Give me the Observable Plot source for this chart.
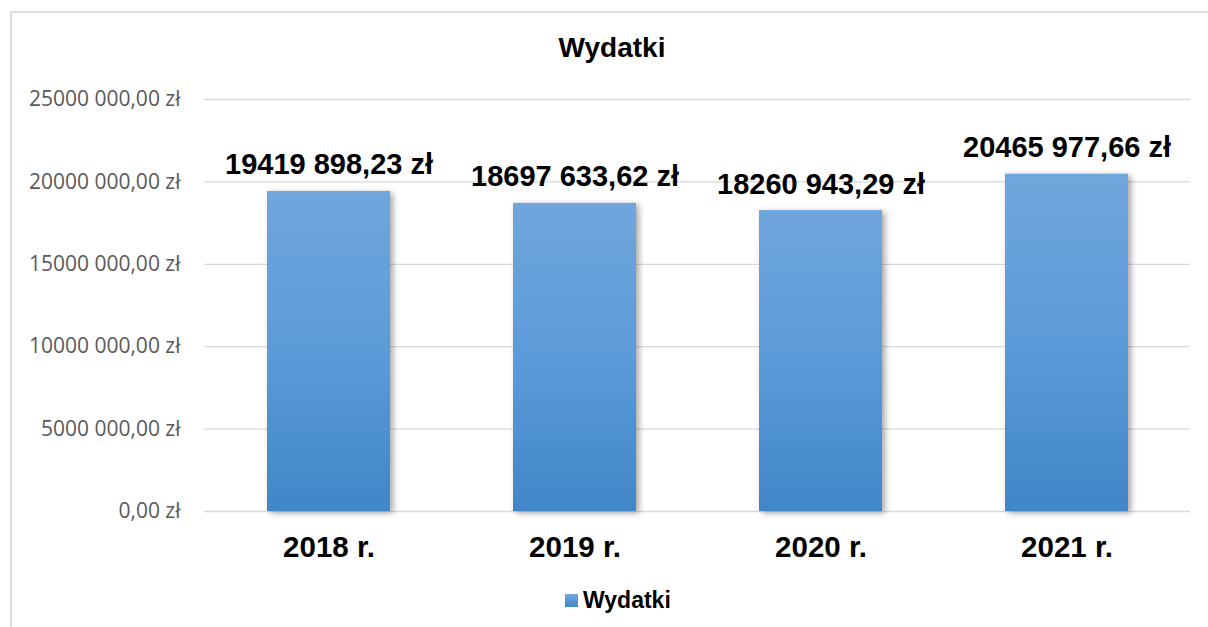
<!DOCTYPE html>
<html>
<head>
<meta charset="utf-8">
<script src="https://cdn.jsdelivr.net/npm/d3@7"></script>
<script src="https://cdn.jsdelivr.net/npm/@observablehq/plot@0.6"></script>
<style>
  html, body { margin: 0; padding: 0; background: #ffffff; }
  body { width: 1208px; height: 627px; overflow: hidden; position: relative; }
  #frame { position: absolute; left: 10px; top: 11px; width: 1300px; height: 700px; border: 2px solid #dedede; box-sizing: border-box; }
  #title { position: absolute; left: 612px; top: 34px; transform: translateX(-50%); font-family: "Liberation Sans", Arial, sans-serif; font-weight: bold; font-size: 28px; line-height: 28px; color: #000; white-space: nowrap; }
  #chart { position: absolute; left: 0; top: 0; }
  #legend { position: absolute; left: 565px; top: 588px; font-family: "Liberation Sans", Arial, sans-serif; font-weight: bold; font-size: 23px; line-height: 24px; color: #000; display: flex; align-items: center; white-space: nowrap; }
  #legend .sw { display: inline-block; width: 13px; height: 13px; margin-right: 5px; background: linear-gradient(#70a6dc, #4186c7); }
  svg g[aria-label="bar"] rect { filter: drop-shadow(3px 2px 3px rgba(0,0,0,0.35)); }
</style>
</head>
<body>
<div id="frame"></div>
<div id="title">Wydatki</div>
<div id="chart"></div>
<div id="legend"><span class="sw"></span>Wydatki</div>
<script>
const years = ["2018 r.", "2019 r.", "2020 r.", "2021 r."];
const values = [19419898.23, 18697633.62, 18260943.29, 20465977.66];
const valueLabels = ["19419 898,23 zł", "18697 633,62 zł", "18260 943,29 zł", "20465 977,66 zł"];
const yTicks = [0, 5000000, 10000000, 15000000, 20000000, 25000000];
const yTickLabels = ["0,00 zł", "5000 000,00 zł", "10000 000,00 zł", "15000 000,00 zł", "20000 000,00 zł", "25000 000,00 zł"];

const data = years.map((y, i) => ({year: y, value: values[i], label: valueLabels[i]}));

const chart = Plot.plot({
  width: 1208,
  height: 580,
  marginLeft: 204,
  marginRight: 18,
  marginTop: 99,
  marginBottom: 69,
  style: {fontFamily: "'Liberation Sans', Arial, sans-serif", background: "transparent", overflow: "visible"},
  x: {domain: years, paddingInner: 0.5, paddingOuter: 0.25, label: null},
  y: {domain: [0, 25000000], label: null},
  marks: [
    Plot.gridY(yTicks, {stroke: "#d9d9d9", strokeOpacity: 1, strokeWidth: 1.3}),
    Plot.axisY(yTicks, {
      tickSize: 0, tickPadding: 24, fontSize: 21, fill: "#595959",
      fontFamily: "'Open Sans', 'Noto Sans', sans-serif",
      tickFormat: d => yTickLabels[yTicks.indexOf(d)], label: null
    }),
    Plot.barY(data, {x: "year", y: "value", fill: "url(#barGrad)"}),
    Plot.axisX({tickSize: 0, tickPadding: 25, fontSize: 29.5, fontWeight: "bold", fill: "#000", label: null}),
    Plot.text(data, {x: "year", y: "value", text: "label", dy: -17, lineAnchor: "bottom", fontSize: 29, fontWeight: "bold", fill: "#000"})
  ]
});

const ns = "http://www.w3.org/2000/svg";
const defs = document.createElementNS(ns, "defs");
const grad = document.createElementNS(ns, "linearGradient");
grad.setAttribute("id", "barGrad");
grad.setAttribute("x1", "0"); grad.setAttribute("y1", "0");
grad.setAttribute("x2", "0"); grad.setAttribute("y2", "1");
[["0%", "#70a6dc"], ["50%", "#5b9bd9"], ["100%", "#4186c7"]].forEach(([o, c]) => {
  const s = document.createElementNS(ns, "stop");
  s.setAttribute("offset", o);
  s.setAttribute("stop-color", c);
  grad.appendChild(s);
});
defs.appendChild(grad);
chart.insertBefore(defs, chart.firstChild);

document.getElementById("chart").appendChild(chart);
</script>
</body>
</html>
